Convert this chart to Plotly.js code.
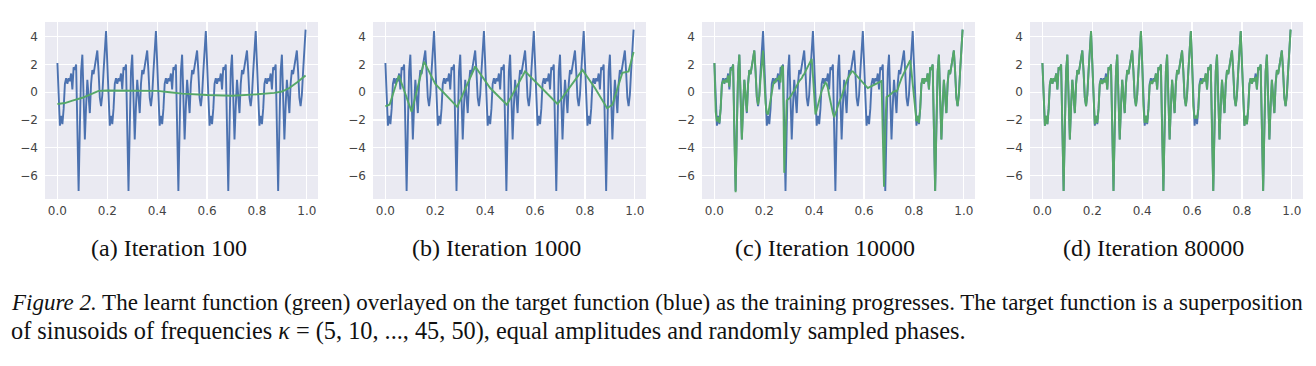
<!DOCTYPE html>
<html>
<head>
<meta charset="utf-8">
<script src="https://cdn.plot.ly/plotly-3.0.1.min.js"></script>
<style>
html,body{margin:0;padding:0;background:#fff;}
#chart{width:1316px;height:366px;}
</style>
</head>
<body>
<div id="chart"></div>
<script>
// ---- data ----
// target function (blue), 200 samples on [0, 1)
const targetY = [
 2.1,-1.0,-2.4,-1.7,-2.3,-1.2,0.6,1.0,0.6,1.0,0.8,1.35,0.2,1.8,1.6,2.0,-3.0,-7.1,-2.5,1.5,2.7,-1.0,-3.4,-1.0,0.9,-0.3,-1.5,0.6,1.6,1.3,1.9,2.5,3.0,1.5,-0.4,-1.0,-0.2,1.5,3.4,4.4,
 2.1,-1.0,-2.4,-1.7,-2.3,-1.2,0.6,1.0,0.6,1.0,0.8,1.35,0.2,1.8,1.6,2.0,-3.0,-7.1,-2.5,1.5,2.7,-1.0,-3.4,-1.0,0.9,-0.3,-1.5,0.6,1.6,1.3,1.9,2.5,3.0,1.5,-0.4,-1.0,-0.2,1.5,3.4,4.4,
 2.1,-1.0,-2.4,-1.7,-2.3,-1.2,0.6,1.0,0.6,1.0,0.8,1.35,0.2,1.8,1.6,2.0,-3.0,-7.1,-2.5,1.5,2.7,-1.0,-3.4,-1.0,0.9,-0.3,-1.5,0.6,1.6,1.3,1.9,2.5,3.0,1.5,-0.4,-1.0,-0.2,1.5,3.4,4.4,
 2.1,-1.0,-2.4,-1.7,-2.3,-1.2,0.6,1.0,0.6,1.0,0.8,1.35,0.2,1.8,1.6,2.0,-3.0,-7.1,-2.5,1.5,2.7,-1.0,-3.4,-1.0,0.9,-0.3,-1.5,0.6,1.6,1.3,1.9,2.5,3.0,1.5,-0.4,-1.0,-0.2,1.5,3.4,4.4,
 2.1,-1.0,-2.4,-1.7,-2.3,-1.2,0.6,1.0,0.6,1.0,0.8,1.35,0.2,1.8,1.6,2.0,-3.0,-7.1,-2.5,1.5,2.7,-1.0,-3.4,-1.0,0.9,-0.3,-1.5,0.6,1.6,1.3,1.9,2.5,3.0,1.5,-0.4,-1.0,-0.2,1.5,3.4,4.5
];
const sampleX = Array.from({length: 200}, (_, i) => i / 200);

// learnt function (green), iteration 100
const learntA_x = [0,0.03,0.06,0.10,0.14,0.165,0.2,0.3,0.4,0.45,0.5,0.6,0.7,0.8,0.87,0.9,0.93,0.96,0.995];
const learntA_y = [-0.85,-0.78,-0.6,-0.4,-0.1,0.1,0.12,0.12,0.1,0.0,-0.1,-0.2,-0.25,-0.15,-0.05,0.05,0.3,0.7,1.2];

// learnt function (green), iteration 1000
const learntB_x = [0,0.017,0.054,0.105,0.155,0.2,0.288,0.36,0.42,0.487,0.56,0.62,0.69,0.79,0.84,0.889,0.91,0.95,0.975,0.995];
const learntB_y = [-1.02,-0.88,1.2,-1.4,2.2,0.6,-1.05,1.85,0.3,-0.9,1.5,0.4,-0.85,1.6,0.3,-1.15,-0.9,1.4,1.5,2.9];

// learnt function (green), iteration 10000, 200 samples
const learntC_y = [
 2.1,-1.4,-2.1,-1.8,-2.2,-1.2,0.6,0.8,0.7,0.9,0.7,1.2,0.4,1.7,1.6,2.0,-3.2,-7.2,-2.6,1.4,2.7,-1.0,-3.4,-1.0,0.9,-0.3,-1.4,0.6,1.6,1.3,1.8,2.5,3.0,1.5,-0.3,-0.9,-0.3,1.0,2.2,3.0,
 1.0,-0.8,-1.5,-1.6,-1.1,-0.5,0.1,0.5,0.8,0.7,1.0,0.9,1.2,0.7,1.9,1.8,-5.8,-3.0,-0.6,-0.5,-0.45,-0.3,-0.1,0.0,0.1,0.3,0.5,0.6,0.8,0.9,1.0,1.2,1.3,1.5,1.7,1.8,2.0,2.2,2.4,1.2,
 -0.6,-1.6,-1.3,-0.9,-0.5,-0.2,0.1,0.3,0.5,0.7,0.6,0.3,-0.2,-0.7,-1.1,-1.5,-1.8,-1.6,-1.3,-1.0,-0.7,-0.5,-0.3,0.0,0.3,0.6,0.8,1.0,1.2,1.35,1.5,1.5,1.4,1.3,1.2,1.1,1.0,0.9,0.8,0.7,
 0.6,0.5,0.4,0.3,0.35,0.4,0.45,0.5,0.55,0.6,0.65,0.7,0.72,0.76,0.8,-3.0,-6.8,-2.5,-0.35,-0.3,-0.25,-0.2,-0.1,0.0,0.05,0.1,0.05,0.2,0.5,0.8,1.0,1.2,1.4,1.6,1.8,2.0,2.15,2.3,1.5,0.5,
 -0.5,-1.6,-2.1,-1.7,-2.2,-1.2,0.6,1.0,0.6,1.0,0.8,1.35,0.2,1.8,1.6,2.0,-3.0,-7.1,-2.5,1.5,2.7,-1.0,-3.4,-1.0,0.9,-0.3,-1.5,0.6,1.6,1.3,1.9,2.5,3.0,1.5,-0.4,-1.0,-0.2,1.5,3.4,4.5
];

// learnt function (green), iteration 80000, 200 samples
const learntD_y = [
 2.1,-1.0,-2.4,-1.7,-2.3,-1.2,0.6,1.0,0.6,1.0,0.8,1.35,0.2,1.8,1.6,2.0,-3.0,-7.1,-2.5,1.5,2.7,-1.0,-3.4,-1.0,0.9,-0.3,-1.5,0.6,1.6,1.3,1.9,2.5,3.0,1.5,-0.4,-1.0,-0.2,1.5,3.4,4.4,
 2.1,-1.0,-2.3,-1.7,-2.2,-1.2,0.6,0.9,0.6,0.9,0.7,1.1,0.2,1.8,1.6,2.0,-3.0,-7.1,-2.5,1.5,2.7,-1.0,-3.4,-1.0,0.9,-0.3,-1.5,0.6,1.6,1.3,1.9,2.5,3.0,1.5,-0.4,-1.0,-0.2,1.5,3.4,4.4,
 2.1,-1.0,-2.2,-1.7,-2.2,-1.2,0.5,0.8,0.6,0.9,0.8,1.35,0.2,1.8,1.6,2.0,-3.0,-7.1,-2.5,1.5,2.7,-1.0,-3.4,-1.0,0.9,-0.3,-1.5,0.6,1.6,1.3,1.9,2.5,3.0,1.5,-0.4,-1.0,-0.2,1.5,3.4,4.4,
 2.1,-1.0,-1.9,-1.7,-1.9,-1.2,0.5,0.8,0.6,1.0,0.8,1.35,0.2,1.8,1.6,2.0,-3.0,-7.1,-2.5,1.5,2.7,-1.0,-3.4,-1.0,0.9,-0.3,-1.5,0.6,1.6,1.3,1.9,2.5,3.0,1.5,-0.4,-1.0,-0.2,1.5,3.4,4.4,
 2.1,-1.0,-2.4,-1.7,-2.3,-1.2,0.6,1.0,0.6,1.0,0.8,1.1,0.2,1.8,1.6,2.0,-3.0,-7.1,-2.5,1.5,2.7,-1.0,-3.4,-1.0,0.9,-0.3,-1.5,0.6,1.6,1.3,1.9,2.5,3.0,1.5,-0.4,-1.0,-0.2,1.5,3.4,4.5
];

const subCaptions = ["(a) Iteration 100", "(b) Iteration 1000", "(c) Iteration 10000", "(d) Iteration 80000"];
const xTicks = [0.0, 0.2, 0.4, 0.6, 0.8, 1.0];
const xTickText = ["0.0", "0.2", "0.4", "0.6", "0.8", "1.0"];
const yTicks = [-6, -4, -2, 0, 2, 4];
const captionLine1 = "<i>Figure 2.</i> The learnt function (green) overlayed on the target function (blue) as the training progresses. The target function is a superposition";
const captionLine2 = "of sinusoids of frequencies <i>κ</i> = (5, 10, ..., 45, 50), equal amplitudes and randomly sampled phases.";

// ---- layout geometry ----
const W = 1316, H = 366;
const panelsPx = [[45, 318], [373, 646], [702, 975], [1030, 1303]];
const topPx = 22, botPx = 199;
const BLUE = "#4C72B0", GREEN = "#55A868";
const SERIF = "Liberation Serif, Times New Roman, serif";

const greens = [
  {x: learntA_x, y: learntA_y},
  {x: learntB_x, y: learntB_y},
  {x: sampleX, y: learntC_y},
  {x: sampleX, y: learntD_y}
];

const traces = [];
const layout = {
  width: W, height: H,
  margin: {l: 0, r: 0, t: 0, b: 0},
  paper_bgcolor: "#ffffff",
  plot_bgcolor: "#EAEAF2",
  showlegend: false,
  annotations: []
};

panelsPx.forEach((p, i) => {
  const n = i === 0 ? "" : String(i + 1);
  const xa = "x" + n, ya = "y" + n;
  traces.push({x: sampleX, y: targetY, xaxis: xa, yaxis: ya, type: "scatter", mode: "lines",
               line: {color: BLUE, width: 1.9}, hoverinfo: "skip"});
  traces.push({x: greens[i].x, y: greens[i].y, xaxis: xa, yaxis: ya, type: "scatter", mode: "lines",
               line: {color: GREEN, width: 1.9}, hoverinfo: "skip"});
  layout["xaxis" + n] = {
    domain: [p[0] / W, p[1] / W], anchor: ya,
    range: [-0.04975, 1.04475],
    tickvals: xTicks, ticktext: xTickText,
    showgrid: true, gridcolor: "#ffffff", gridwidth: 1.3,
    zeroline: false, showline: false, ticks: "",
    ticklabelstandoff: 3,
    tickfont: {family: "DejaVu Sans", size: 12, color: "#444444"}
  };
  layout["yaxis" + n] = {
    domain: [1 - botPx / H, 1 - topPx / H], anchor: xa,
    range: [-7.68, 5.05],
    tickvals: yTicks,
    showgrid: true, gridcolor: "#ffffff", gridwidth: 1.3,
    zeroline: false, showline: false, ticks: "",
    ticklabelstandoff: 6,
    tickfont: {family: "DejaVu Sans", size: 12, color: "#444444"}
  };
  layout.annotations.push({
    xref: "paper", yref: "paper",
    x: ((p[0] + p[1]) / 2 - 13) / W, y: 1 - 248 / H,
    xanchor: "center", yanchor: "middle", showarrow: false,
    text: subCaptions[i],
    font: {family: SERIF, size: 24, color: "#111111"}
  });
});

layout.annotations.push({
  xref: "paper", yref: "paper", x: 9 / W, y: 1 - 302 / H,
  xanchor: "left", yanchor: "middle", showarrow: false,
  text: captionLine1,
  font: {family: SERIF, size: 23, color: "#111111"}
});
layout.annotations.push({
  xref: "paper", yref: "paper", x: 9 / W, y: 1 - 331 / H,
  xanchor: "left", yanchor: "middle", showarrow: false,
  text: captionLine2,
  font: {family: SERIF, size: 24.3, color: "#111111"}
});

Plotly.newPlot("chart", traces, layout, {staticPlot: true, displayModeBar: false});
</script>
</body>
</html>
